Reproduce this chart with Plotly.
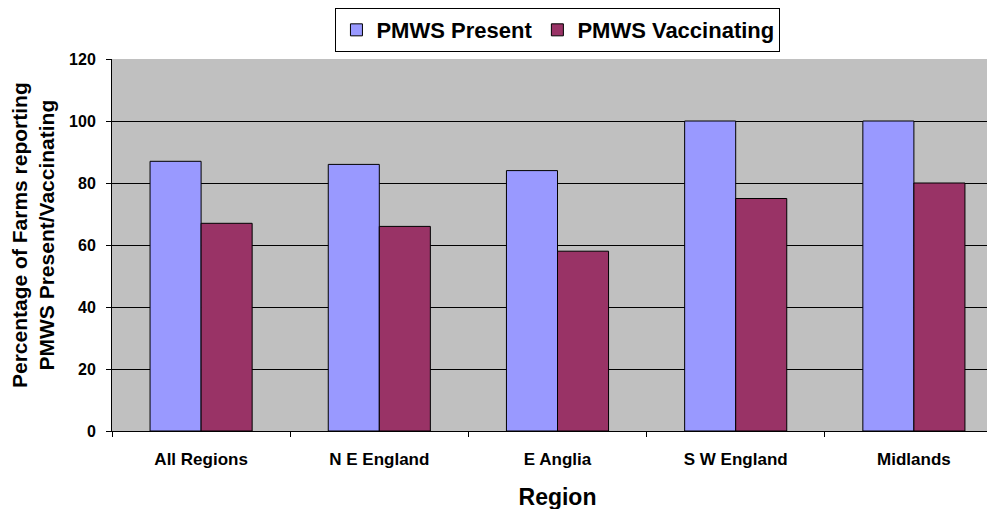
import plotly.graph_objects as go

# ── Data ──────────────────────────────────────────────────────────────────────
REGIONS = ["All Regions", "N E England", "E Anglia", "S W England", "Midlands"]
PMWS_PRESENT = [87, 86, 84, 100, 100]
PMWS_VACCINATING = [67, 66, 58, 75, 80]
Y_TICKS = [0, 20, 40, 60, 80, 100, 120]

FONT = "Liberation Sans, Arial, sans-serif"

fig = go.Figure()
fig.add_trace(go.Bar(
    x=REGIONS, y=PMWS_PRESENT, name="<b>PMWS Present</b>",
    marker=dict(color="#9999FF", line=dict(color="#000000", width=1)),
))
fig.add_trace(go.Bar(
    x=REGIONS, y=PMWS_VACCINATING, name="<b>PMWS Vaccinating</b>",
    marker=dict(color="#993366", line=dict(color="#000000", width=1)),
))

# page body has an 8px margin, so the figure is offset by (8, 8)
fig.update_layout(
    width=995, height=509,
    barmode="group", bargap=0.427, bargroupgap=0,
    paper_bgcolor="white", plot_bgcolor="#C0C0C0",
    margin=dict(l=104, r=0, t=51, b=86, autoexpand=False),
    font=dict(family=FONT, color="black"),
    legend=dict(
        orientation="h", x=0.5005, xanchor="center",
        y=1.137, yanchor="top",
        font=dict(size=22, family=FONT),
        bordercolor="black", borderwidth=1, bgcolor="white",
        tracegroupgap=0,
    ),
    xaxis=dict(
        range=[-0.5, 4.5], automargin=False,
        showline=True, linecolor="black", linewidth=1,
        ticks="outside", tickson="boundaries", ticklen=5, tickcolor="black",
        tickvals=REGIONS, ticktext=[f"<b>{r}</b>" for r in REGIONS],
        tickfont=dict(size=17, family=FONT),
        ticklabelstandoff=13,
        title=dict(text="<b>Region</b>", font=dict(size=23), standoff=20),
        showgrid=False,
    ),
    yaxis=dict(
        range=[0, 120], automargin=False,
        tickvals=Y_TICKS, ticktext=[f"<b>{v}</b>" for v in Y_TICKS],
        showline=True, linecolor="black", linewidth=1,
        ticks="outside", ticklen=5, tickcolor="black",
        tickfont=dict(size=16, family=FONT),
        ticklabelstandoff=7,
        showgrid=True, gridcolor="black", gridwidth=1,
        zeroline=False,
    ),
)

fig.add_annotation(
    text="<b>Percentage of Farms reporting<br>PMWS Present/Vaccinating</b>",
    textangle=-90, font=dict(size=21, family=FONT),
    xref="paper", yref="paper", x=0, y=0.5,
    xanchor="center", yanchor="middle",
    xshift=-79, yshift=10, showarrow=False,
)

fig.write_html("out.html")
